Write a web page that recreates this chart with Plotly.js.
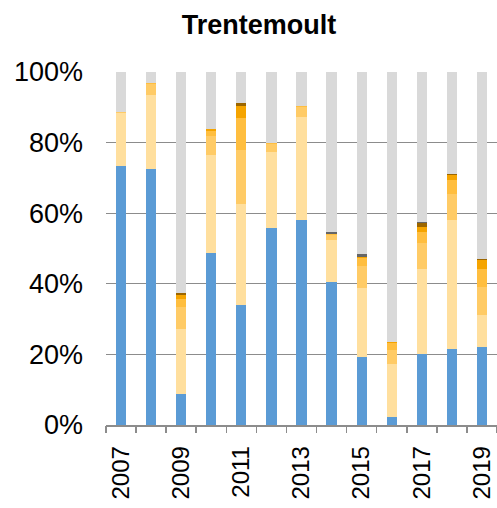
<!DOCTYPE html>
<html>
<head>
<meta charset="utf-8">
<script src="https://cdn.plot.ly/plotly-3.0.1.min.js"></script>
<style>html,body{margin:0;padding:0;background:#fff;}#chart{width:497px;height:508px;}</style>
</head>
<body>
<div id="chart"></div>
<script>
const years = [2007, 2008, 2009, 2010, 2011, 2012, 2013, 2014, 2015, 2016, 2017, 2018, 2019];
const tickYears = [2007, 2009, 2011, 2013, 2015, 2017, 2019];
const s1 = [73.4, 72.4, 8.9, 48.6, 34.1, 55.9, 58.0, 40.6, 19.3, 2.4, 20.2, 21.6, 22.2];
const s2 = [15.0, 21.0, 18.4, 28.0, 28.6, 21.5, 29.3, 11.9, 19.4, 14.9, 24.0, 36.5, 9.0];
const s3 = [0.4, 3.2, 6.0, 5.3, 15.3, 2.3, 2.8, 1.2, 6.4, 4.0, 7.4, 7.4, 7.9];
const s4 = [0.0, 0.4, 2.5, 1.5, 9.0, 0.3, 0.4, 0.5, 2.2, 2.0, 3.1, 4.0, 5.1];
const s5 = [0.0, 0.0, 1.0, 0.5, 3.5, 0.0, 0.0, 0.0, 0.3, 0.3, 1.3, 1.2, 2.6];
const s6 = [0.0, 0.0, 0.5, 0.0, 0.6, 0.0, 0.0, 0.0, 0.0, 0.0, 1.1, 0.3, 0.3];
const s7 = [0.0, 0.0, 0.0, 0.0, 0.0, 0.0, 0.0, 0.5, 0.8, 0.0, 0.3, 0.0, 0.0];
const s8 = [11.2, 3.0, 62.7, 16.1, 8.9, 20.3, 9.5, 45.3, 51.6, 76.4, 42.6, 29.0, 52.9];

const series = [s1, s2, s3, s4, s5, s6, s7, s8];
const colors = ['#5B9BD5', '#FFDF9E', '#FFCB66', '#FFBE3F', '#F5A400', '#9C6600', '#666666', '#D9D9D9'];

const traces = series.map((s, i) => ({
  type: 'bar', x: years, y: s, width: 0.34,
  marker: {color: colors[i], line: {width: 0}},
  showlegend: false, hoverinfo: 'skip'
}));
// invisible trace to carry the boundary-tick axis
traces.push({type: 'scatter', x: [years[0]], y: [0], xaxis: 'x2', mode: 'markers',
  marker: {opacity: 0}, showlegend: false, hoverinfo: 'skip'});

const boundaries = years.map(y => y - 0.5).concat([years[years.length - 1] + 0.5]);

const layout = {
  width: 497, height: 508,
  margin: {l: 106, r: 0, t: 72, b: 83},
  paper_bgcolor: '#fff', plot_bgcolor: '#fff',
  barmode: 'stack',
  font: {family: 'Liberation Sans, Arial, sans-serif', color: '#000'},
  title: {text: '<b>Trentemoult</b>', font: {size: 27, color: '#000'},
    x: 0.521, xref: 'container', xanchor: 'center', y: 1 - 25/508, yref: 'container', yanchor: 'middle'},
  xaxis: {
    range: [2006.5, 2019.5], tickmode: 'array', tickvals: tickYears, ticktext: tickYears.map(String),
    tickangle: -90, tickfont: {size: 24}, ticks: '', showgrid: false, zeroline: false,
    showline: true, linecolor: '#8c8c8c', linewidth: 1.5, ticklabelstandoff: 10, fixedrange: true
  },
  xaxis2: {
    overlaying: 'x', range: [2006.5, 2019.5], tickmode: 'array', tickvals: boundaries,
    showticklabels: false, ticks: 'outside', ticklen: 7, tickwidth: 1.5, tickcolor: '#8c8c8c',
    showgrid: false, zeroline: false, showline: false, side: 'bottom', anchor: 'y'
  },
  yaxis: {
    range: [0, 100], tickmode: 'array', tickvals: [0, 20, 40, 60, 80, 100],
    ticktext: ['0%', '20%', '40%', '60%', '80%', '100%'], tickfont: {size: 27},
    showgrid: true, gridcolor: '#8c8c8c', gridwidth: 1.3, zeroline: false, showline: false,
    ticks: '', ticklabelstandoff: 22, fixedrange: true
  }
};

Plotly.newPlot('chart', traces, layout, {staticPlot: true, displayModeBar: false});
</script>
</body>
</html>
